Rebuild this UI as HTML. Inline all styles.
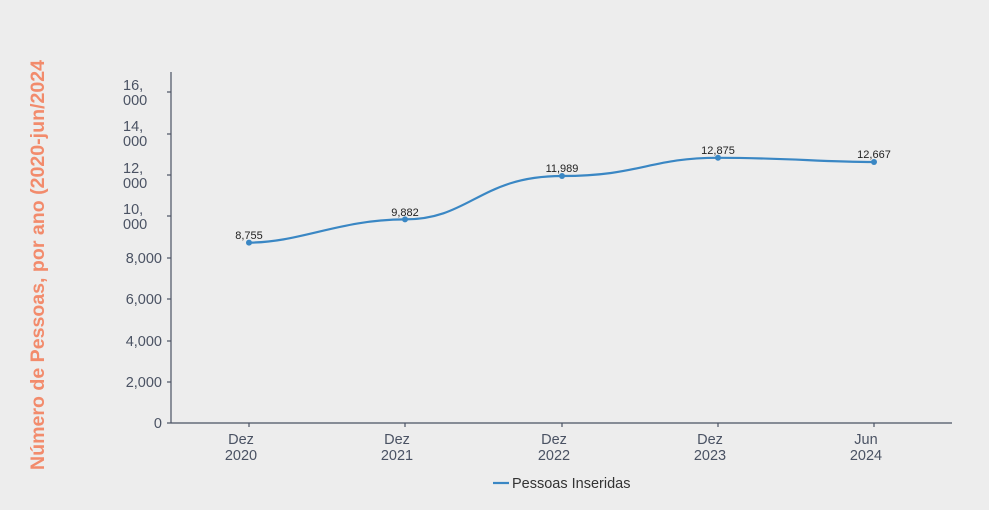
<!DOCTYPE html>
<html><head><meta charset="utf-8"><style>
html,body{margin:0;padding:0;background:#ededed;}
svg{display:block;font-family:"Liberation Sans",sans-serif;}
</style></head><body>
<svg width="989" height="510" viewBox="0 0 989 510">
<rect width="989" height="510" fill="#ededed"/>
<text transform="translate(44,265) rotate(-90)" text-anchor="middle" font-size="19.5" font-weight="bold" fill="#f28b6c" textLength="410" lengthAdjust="spacingAndGlyphs">Número de Pessoas, por ano (2020-jun/2024</text>
<g stroke="#4a5263" stroke-width="1.2" fill="none">
<line x1="171" y1="72" x2="171" y2="423"/>
<line x1="171" y1="423" x2="952" y2="423"/>
<line x1="167" y1="423" x2="171" y2="423"/><line x1="167" y1="382" x2="171" y2="382"/><line x1="167" y1="341" x2="171" y2="341"/><line x1="167" y1="299" x2="171" y2="299"/><line x1="167" y1="258" x2="171" y2="258"/><line x1="167" y1="216" x2="171" y2="216"/><line x1="167" y1="175" x2="171" y2="175"/><line x1="167" y1="134" x2="171" y2="134"/><line x1="167" y1="92" x2="171" y2="92"/>
<line x1="249" y1="423" x2="249" y2="427"/><line x1="405" y1="423" x2="405" y2="427"/><line x1="562" y1="423" x2="562" y2="427"/><line x1="718" y1="423" x2="718" y2="427"/><line x1="874" y1="423" x2="874" y2="427"/>
</g>
<g font-size="14.5" fill="#4a5263" text-anchor="end">
<text x="162" y="428">0</text><text x="162" y="387">2,000</text><text x="162" y="346">4,000</text><text x="162" y="304">6,000</text><text x="162" y="263">8,000</text>
</g>
<g font-size="14.5" fill="#4a5263">
<text x="123" y="214">10,</text><text x="123" y="229">000</text>
<text x="123" y="173">12,</text><text x="123" y="188">000</text>
<text x="123" y="131">14,</text><text x="123" y="146">000</text>
<text x="123" y="90">16,</text><text x="123" y="105">000</text>
</g>
<g font-size="14.5" fill="#4a5263" text-anchor="middle">
<text x="241" y="444">Dez</text><text x="241" y="460">2020</text>
<text x="397" y="444">Dez</text><text x="397" y="460">2021</text>
<text x="554" y="444">Dez</text><text x="554" y="460">2022</text>
<text x="710" y="444">Dez</text><text x="710" y="460">2023</text>
<text x="866" y="444">Jun</text><text x="866" y="460">2024</text>
</g>
<path d="M249,242.6 C300,242.6 340,219.4 405,219.4 C470,219.4 480,176 562,176 C640,176 650,157.8 718,157.8 C790,157.8 820,162 874,162" stroke="#3a87c4" stroke-width="2.2" fill="none"/>
<g fill="#3a87c4"><circle cx="249" cy="242.6" r="3"/><circle cx="405" cy="219.4" r="3"/><circle cx="562" cy="176" r="3"/><circle cx="718" cy="157.8" r="3"/><circle cx="874" cy="162" r="3"/></g>
<g font-size="11" fill="#222" text-anchor="middle">
<text x="249" y="239">8,755</text><text x="405" y="216">9,882</text><text x="562" y="172">11,989</text><text x="718" y="154">12,875</text><text x="874" y="158">12,667</text>
</g>
<line x1="493" y1="483" x2="509" y2="483" stroke="#3a87c4" stroke-width="2.2"/>
<text x="512" y="488" font-size="14.5" fill="#333">Pessoas Inseridas</text>
</svg>
</body></html>
